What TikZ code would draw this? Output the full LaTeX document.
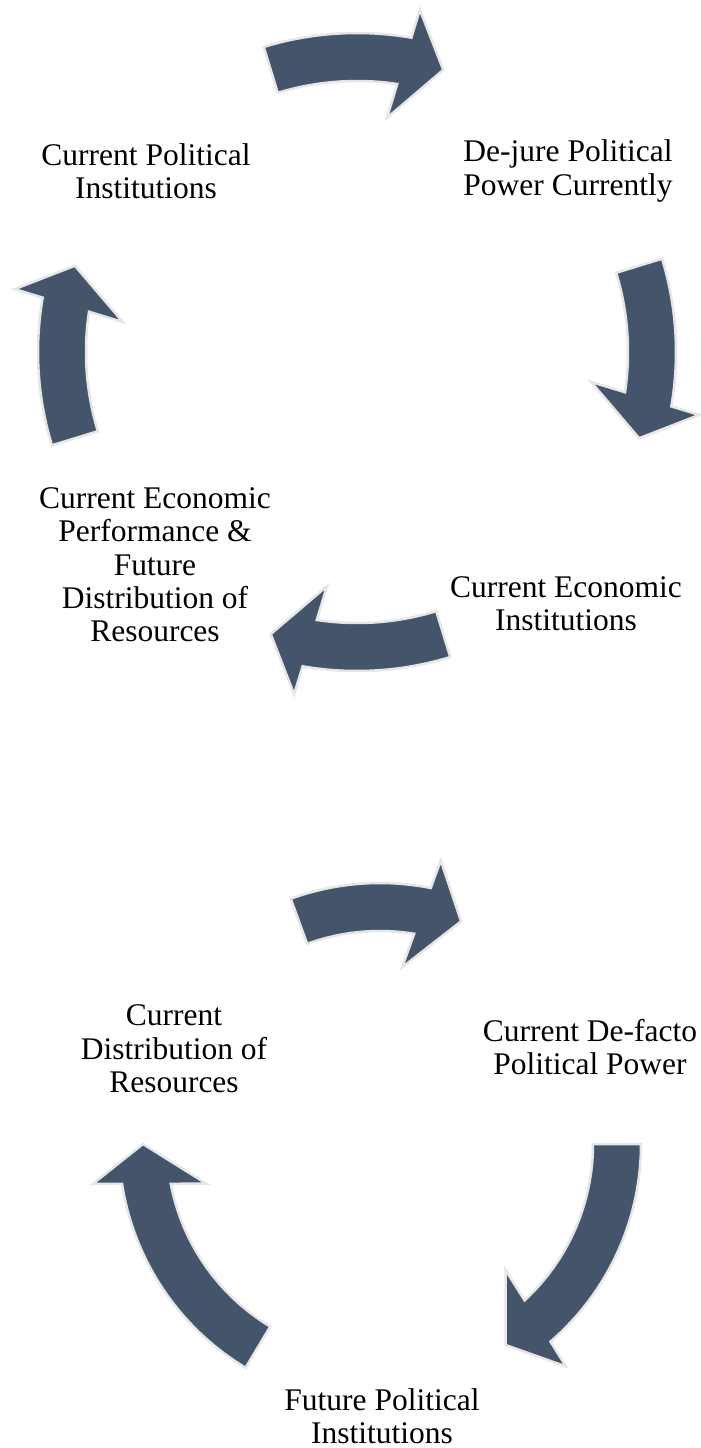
\documentclass[tikz,border=0pt]{standalone}
\usepackage{fontspec}
\setmainfont{Liberation Serif}
\definecolor{slate}{HTML}{44546A}
\definecolor{rim}{HTML}{E6E6E6}
\tikzset{%
    bent/.style={fill=slate, draw=rim, line width=2.5pt, line join=miter},
    stage/.style={align=center, inner sep=0pt, font=\fontsize{31.5}{33.3}\selectfont},
    %stage box/.style={draw=red}
}

\begin{document}
\begin{tikzpicture}[x=1pt, y=-1pt]

	\useasboundingbox (0,0) rectangle (701,1448);

	% curved block arrow: centre, radius, start angle, tip angle
	\newcommand{\bentarrow}[4]{%
		\pgfmathsetmacro{\rOut}{#2+24}
		\pgfmathsetmacro{\rIn}{#2-24}
		\pgfmathsetmacro{\hOut}{#2+53}
		\pgfmathsetmacro{\hIn}{#2-59}
		\pgfmathsetmacro{\aOut}{#4+deg(40/\rOut)}
		\pgfmathsetmacro{\aIn}{#4+deg(40/\rIn)}
		\pgfmathsetmacro{\ahOut}{#4+deg(40/\hOut)}
		\pgfmathsetmacro{\ahIn}{#4+deg(40/\hIn)}
		\draw[bent] ([shift={(#1)}]#3:\rOut pt) arc[start angle=#3, end angle=\aOut, radius=\rOut pt]
			-- ([shift={(#1)}]\ahOut:\hOut pt) -- ([shift={(#1)}]#4:#2pt)
			-- ([shift={(#1)}]\ahIn:\hIn pt) -- ([shift={(#1)}]\aIn:\rIn pt)
			arc[start angle=\aIn, end angle=#3, radius=\rIn pt] -- cycle;
	}

	% upper cycle
	\coordinate (upper) at (357,352);
	\bentarrow{upper}{295}{107}{73}
	\bentarrow{upper}{295}{17}{-17}
	\bentarrow{upper}{295}{-73}{-107}
	\bentarrow{upper}{295}{197}{163}

	\node[stage] (polinst) at (146,171) {Current Political\\Institutions};
	\node[stage] (dejure) at (568,171) {De-jure Political\\Power Currently};
	\node[stage] (ecoinst) at (566,604) {Current Economic\\Institutions};
	\node[stage] (ecoperf) at (155,565) {Current Economic\\Performance \&\\Future\\Distribution of\\Resources};

	% lower cycle
	\coordinate (lower) at (380,1144);
	\bentarrow{lower}{237}{110}{70}
	\bentarrow{lower}{237}{0}{-58}
	\bentarrow{lower}{237}{239}{180}

	\node[stage] (distres) at (174,1049) {Current\\Distribution of\\Resources};
	\node[stage] (defacto) at (590,1047) {Current De-facto\\Political Power};
	\node[stage] (futinst) at (382,1416) {Future Political\\Institutions};

\end{tikzpicture}
\end{document}
